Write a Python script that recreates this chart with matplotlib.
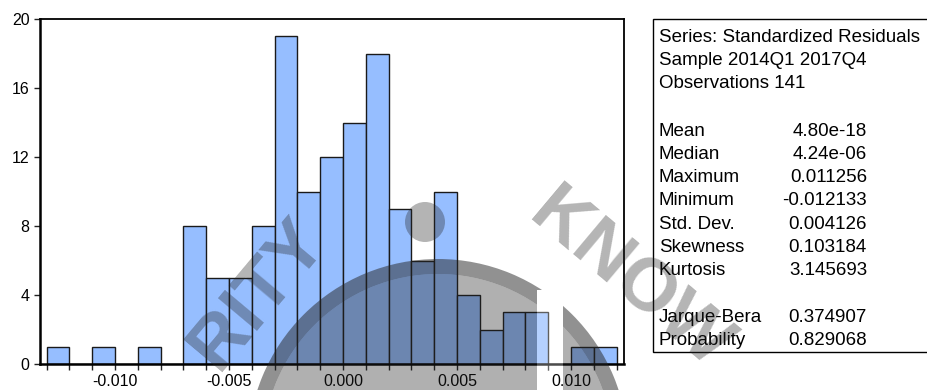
import numpy as np
import matplotlib.pyplot as plt
from matplotlib.patches import Circle, Wedge, Rectangle
from matplotlib.path import Path

plt.rcParams['font.family'] = ['Liberation Sans', 'DejaVu Sans']

# residual histogram, bins of width 0.001 starting at -0.013
bin_start = -0.013
bin_width = 0.001
counts = [1, 0, 1, 0, 1, 0, 8, 5, 5, 8, 19, 10, 12, 14, 18, 9, 6, 10, 4, 2, 3, 3, 0, 1, 1]

x_ticks = [-0.010, -0.005, 0.000, 0.005, 0.010]
y_ticks = [0, 4, 8, 12, 16, 20]

header_lines = ['Series: Standardized Residuals', 'Sample 2014Q1 2017Q4', 'Observations 141']
stat_names = ['Mean', 'Median', 'Maximum', 'Minimum', 'Std. Dev.', 'Skewness', 'Kurtosis',
              None, 'Jarque-Bera', 'Probability']
stat_values = ['4.80e-18', '4.24e-06', '0.011256', '-0.012133', '0.004126', '0.103184',
               '3.145693', None, '0.374907', '0.829068']

W, H = 928, 390
fig = plt.figure(figsize=(W / 100, H / 100), dpi=100)
ax = fig.add_axes([40 / W, 1 - 364 / H, 584 / W, 345 / H])

edges = bin_start + bin_width * np.arange(len(counts) + 1)
ax.bar(edges[:-1], counts, width=bin_width, align='edge',
       color='#96BEFF', edgecolor='#1a1a1a', linewidth=1.0)

ax.set_xlim(-0.01329, 0.012325)
ax.set_ylim(0, 20)
ax.set_xticks(x_ticks)
ax.set_xticklabels(['%.3f' % v for v in x_ticks])
ax.set_xticks(edges, minor=True)
ax.set_yticks(y_ticks)
ax.tick_params(axis='both', which='both', direction='out', length=4.5, width=1.0,
               color='#222222', labelsize=11.5, pad=3)
for s in ax.spines.values():
    s.set_color('black')
    s.set_linewidth(1.3)
ax.spines['left'].set_linewidth(1.8)
ax.spines['bottom'].set_linewidth(1.8)

# overlay in figure pixels for the statistics box and the seal
ov = fig.add_axes([0, 0, 1, 1], zorder=5)
ov.set_xlim(0, W)
ov.set_ylim(H, 0)
ov.axis('off')
ov.patch.set_alpha(0)

ov.add_patch(Rectangle((653, 19), 300, 333, facecolor='white', edgecolor='black',
                       linewidth=1.0, zorder=1))
fs = 13.5
y = 37
for line in header_lines:
    ov.text(659, y, line, fontsize=fs, va='center', ha='left', zorder=2)
    y += 23.5
y += 23.5
for name, val in zip(stat_names, stat_values):
    if name is not None:
        ov.text(659, y, name, fontsize=fs, va='center', ha='left', zorder=2)
        ov.text(867, y, val, fontsize=fs, va='center', ha='right', zorder=2)
    y += 23.3

# seal watermark
cx, cy = 438, 449
grey = '#242424'
outer = Path([(0, 0), (W, 0), (W, H), (0, H), (0, 0)],
             [Path.MOVETO, Path.LINETO, Path.LINETO, Path.LINETO, Path.CLOSEPOLY])
strip = Path([(537, 290), (537, H + 5), (563, H + 5), (563, 290), (537, 290)],
             [Path.MOVETO, Path.LINETO, Path.LINETO, Path.LINETO, Path.CLOSEPOLY])
hole = Path.make_compound_path(outer, strip)

disc = Circle((cx, cy), 175, facecolor=grey, edgecolor='none', alpha=0.36, zorder=10)
band = Wedge((cx, cy), 190, 0, 360, width=15, facecolor=grey, edgecolor='none',
             alpha=0.5, zorder=10)
for p in (disc, band):
    ov.add_patch(p)
    p.set_clip_path(hole, ov.transData)
ov.add_patch(Rectangle((537, 290), 26, 80, facecolor='white', edgecolor='none',
                       alpha=0.3, zorder=10))
ov.add_patch(Circle((425, 222), 20, facecolor=grey, edgecolor='none', alpha=0.34,
                    zorder=10))
ov.text(258, 294, 'RITY', fontsize=54, fontweight='bold', rotation=50,
        color=grey, alpha=0.34, ha='center', va='center', zorder=10)
ov.text(630, 280, 'KNOW', fontsize=54, fontweight='bold', rotation=-40,
        color=grey, alpha=0.34, ha='center', va='center', zorder=10)

fig.savefig('out.png', dpi=100)
